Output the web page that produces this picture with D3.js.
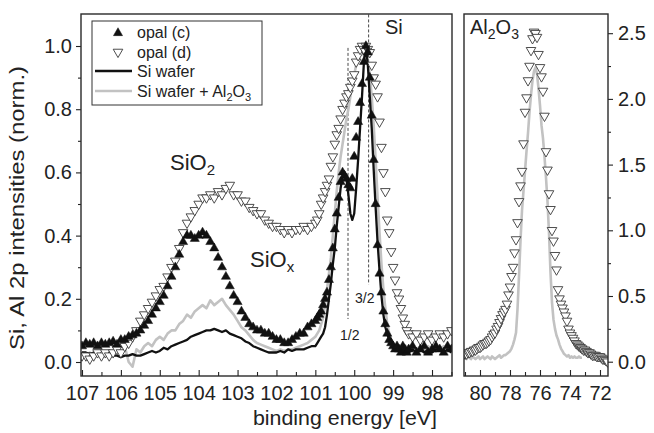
<!DOCTYPE html>
<html><head><meta charset="utf-8">
<script src="https://cdn.jsdelivr.net/npm/d3@7"></script>
<style>
body{margin:0;background:#fff;}
svg{display:block;font-family:"Liberation Sans",Arial,Helvetica,sans-serif;}
</style></head><body>
<svg id="chart" width="654" height="433"></svg>
<script>
// ---------- DATA ----------
// Si 2p panel energy grid (eV): 107.0..101.1 step 0.1, 101.0..98.6 step 0.05, 98.5..97.5 step 0.1
const siE = [].concat(
  d3.range(60).map(i => +(107 - 0.1 * i).toFixed(2)),
  d3.range(49).map(i => +(101 - 0.05 * i).toFixed(2)),
  d3.range(11).map(i => +(98.5 - 0.1 * i).toFixed(2))
);
// opal (c) – filled triangles
const opalC = [
  .05,.06,.055,.06,.05,.06,.055,.06,.065,.055,
  .07,.07,.08,.085,.09,.10,.115,.13,.15,.17,
  .19,.21,.24,.27,.30,.34,.38,.40,.40,.39,
  .40,.41,.40,.38,.36,.33,.30,.27,.24,.21,
  .19,.16,.14,.12,.11,.10,.10,.09,.09,.08,
  .07,.07,.06,.06,.07,.08,.09,.09,.11,.12,
  .13,.14,.15,.16,.18,.20,.22,.26,.30,.36,
  .42,.47,.52,.57,.60,.59,.58,.56,.55,.58,
  .65,.71,.76,.82,.88,.95,1.00,.98,.90,.78,
  .64,.50,.37,.28,.22,.16,.12,.09,.07,.06,
  .05,.04,.05,.04,.03,.05,.04,.03,.04,
  .05,.03,.04,.05,.03,.04,.05,.04,.03,.05,.04
];
// opal (d) – open triangles
const opalD = [
  .02,.02,.01,.02,.03,.02,.03,.02,.03,.04,
  .03,.05,.06,.08,.10,.13,.15,.17,.19,.21,
  .23,.24,.27,.30,.32,.36,.41,.44,.46,.48,
  .50,.52,.52,.53,.52,.54,.53,.55,.56,.53,
  .53,.51,.51,.49,.48,.47,.47,.45,.44,.43,
  .43,.42,.41,.42,.41,.42,.42,.43,.42,.43,
  .44,.45,.47,.50,.52,.54,.56,.58,.62,.65,
  .69,.72,.74,.77,.80,.82,.84,.85,.87,.89,
  .91,.95,.97,.99,1.00,.99,1.00,.99,.98,.94,
  .90,.88,.84,.76,.68,.60,.54,.45,.41,.35,
  .30,.26,.22,.20,.17,.14,.12,.10,.09,
  .08,.09,.07,.08,.09,.07,.08,.09,.08,.09,.10
];
// Si wafer – black line
const siWafer = [
  .03,.03,.025,.03,.02,.025,.02,.03,.02,.02,
  .015,.02,.02,.025,.02,.02,.025,.03,.035,.03,
  .035,.045,.04,.05,.055,.06,.065,.07,.08,.085,
  .09,.095,.10,.10,.105,.10,.095,.10,.09,.085,
  .08,.075,.065,.06,.05,.045,.04,.035,.03,.03,
  .03,.035,.03,.04,.035,.04,.04,.04,.045,.05,
  .05,.06,.07,.08,.09,.11,.15,.20,.25,.31,
  .36,.43,.49,.55,.59,.60,.58,.53,.47,.45,
  .47,.55,.64,.74,.84,.95,1.00,.94,.84,.74,
  .61,.49,.38,.29,.21,.15,.11,.09,.07,.06,
  .05,.05,.04,.04,.04,.03,.04,.04,.03,
  .04,.03,.04,.03,.04,.03,.04,.04,.03,.04,.03
];
// Si wafer + Al2O3 – grey line
const siWaferAl = [
  .03,.02,.03,.02,.03,.02,.03,.03,.02,.04,
  .02,.05,.00,-.015,.04,.03,.05,.06,.05,.07,
  .08,.07,.09,.10,.10,.12,.13,.15,.14,.16,
  .17,.18,.17,.195,.18,.19,.20,.18,.165,.15,
  .13,.11,.10,.085,.07,.06,.055,.05,.045,.04,
  .035,.04,.035,.04,.04,.045,.05,.055,.06,.07,
  .08,.09,.10,.12,.14,.18,.23,.28,.33,.40,
  .47,.54,.60,.65,.69,.73,.77,.80,.84,.88,
  .91,.94,.96,.98,.98,.97,.97,.95,.91,.84,
  .75,.64,.52,.41,.31,.23,.17,.12,.09,.07,
  .06,.05,.05,.04,.05,.04,.04,.05,.04,
  .05,.04,.05,.04,.05,.04,.05,.04,.05,.04,.05
];
// Al 2p panel energy grid (eV): 81.0..71.5 step 0.1
const alE = d3.range(96).map(i => +(81 - 0.1 * i).toFixed(1));
const opalDAl = [
  .06,.06,.07,.07,.08,.08,.09,.09,.10,.11,
  .11,.12,.13,.14,.14,.15,.16,.17,.19,.21,
  .22,.25,.27,.30,.33,.36,.38,.40,.44,.51,
  .57,.65,.72,.83,.93,1.06,1.22,1.34,1.45,1.66,
  1.90,2.01,2.14,2.25,2.37,2.46,2.51,2.50,2.47,2.34,
  2.24,2.17,2.06,1.87,1.60,1.46,1.28,1.16,1.00,.92,
  .81,.70,.55,.48,.44,.41,.38,.35,.31,.25,
  .22,.20,.18,.16,.14,.13,.12,.11,.10,.09,
  .09,.08,.07,.07,.06,.05,.05,.05,.04,.04,
  .04,.03,.02,.02,.01,.00
];
// grey line in Al panel: 81.0..73.2 step 0.1
const alGreyE = d3.range(79).map(i => +(81 - 0.1 * i).toFixed(1));
const siWaferAlAl = [
  .03,.02,.04,.03,.02,.04,.03,.02,.03,.04,
  .02,.03,.04,.02,.03,.04,.03,.02,.04,.03,
  .02,.03,.04,.05,.03,.04,.05,.05,.06,.07,
  .08,.10,.13,.17,.22,.40,.65,.92,1.15,1.30,
  1.45,1.60,1.74,1.90,2.03,2.14,2.21,2.24,2.19,2.08,
  1.95,1.80,1.70,1.56,1.40,1.22,.98,.68,.45,.32,
  .25,.20,.17,.13,.10,.08,.06,.05,.04,.05,
  .03,.04,.03,.04,.03,.03,.04,.03,.03
];
// tick values
const xTicksSi = [107,106,105,104,103,102,101,100,99,98];
const xTicksAl = [80,78,76,74,72];
const yTicksSi = [0.0,0.2,0.4,0.6,0.8,1.0];
const yTicksAl = [0.0,0.5,1.0,1.5,2.0,2.5];
// spin-orbit markers (eV) with their vertical extent (norm. intensity)
const dashE = [100.16, 99.63];
const dashTop = [0.994, 1.10];
const dashBot = [0.136, 0.245];

// ---------- LAYOUT ----------
const svg = d3.select("#chart");
const L = {x0:81, x1:452, y0:14, y1:376};
const R = {x0:464, x1:608, y0:14, y1:376};
const xL = d3.scaleLinear().domain([107.0257, 97.486]).range([L.x0, L.x1]);
const yL = d3.scaleLinear().domain([-0.0443, 1.1013]).range([L.y1, L.y0]);
const xR = d3.scaleLinear().domain([81.0667, 71.4667]).range([R.x0, R.x1]);
const yR = d3.scaleLinear().domain([-0.1088, 2.6461]).range([R.y1, R.y0]);

const FONT = 20;
const dark = "#222";

const defs = svg.append("defs");
defs.append("clipPath").attr("id","clipL").append("rect")
  .attr("x",L.x0).attr("y",L.y0).attr("width",L.x1-L.x0).attr("height",L.y1-L.y0);
defs.append("clipPath").attr("id","clipR").append("rect")
  .attr("x",R.x0).attr("y",R.y0).attr("width",R.x1-R.x0).attr("height",R.y1-R.y0);

function styleAxis(g){
  g.select(".domain").remove();
  g.selectAll("line").attr("stroke",dark).attr("stroke-width",1.1);
  g.selectAll("text").attr("font-size",FONT).attr("fill",dark)
   .attr("font-family",'"Liberation Sans",Arial,sans-serif');
}
function minorRange(a,b,step){ return d3.range(a,b+1e-9,step).map(v=>+v.toFixed(3)); }

// Left panel axes
svg.append("g").attr("transform",`translate(0,${L.y1})`)
  .call(d3.axisBottom(xL).tickValues(xTicksSi).tickFormat(d3.format("d")).tickSizeInner(-6).tickSizeOuter(0).tickPadding(10))
  .call(styleAxis);
svg.append("g").attr("transform",`translate(0,${L.y1})`)
  .call(d3.axisBottom(xL).tickValues(minorRange(97.5,107,0.5).filter(v=>v%1!==0)).tickFormat("").tickSizeInner(-4).tickSizeOuter(0))
  .call(styleAxis);
svg.append("g").attr("transform",`translate(${L.x0},0)`)
  .call(d3.axisLeft(yL).tickValues(yTicksSi).tickFormat(d3.format(".1f")).tickSizeInner(5).tickSizeOuter(0).tickPadding(4))
  .call(styleAxis);
svg.append("g").attr("transform",`translate(${L.x0},0)`)
  .call(d3.axisLeft(yL).tickValues([0.1,0.3,0.5,0.7,0.9]).tickFormat("").tickSizeInner(3).tickSizeOuter(0))
  .call(styleAxis);

// Right panel axes
svg.append("g").attr("transform",`translate(0,${R.y1})`)
  .call(d3.axisBottom(xR).tickValues(xTicksAl).tickFormat(d3.format("d")).tickSizeInner(-6).tickSizeOuter(0).tickPadding(10))
  .call(styleAxis);
svg.append("g").attr("transform",`translate(0,${R.y1})`)
  .call(d3.axisBottom(xR).tickValues([81,79,77,75,73]).tickFormat("").tickSizeInner(-4).tickSizeOuter(0))
  .call(styleAxis);
svg.append("g").attr("transform",`translate(${R.x1},0)`)
  .call(d3.axisRight(yR).tickValues(yTicksAl).tickFormat(d3.format(".1f")).tickSizeInner(5).tickSizeOuter(0).tickPadding(5))
  .call(styleAxis);
svg.append("g").attr("transform",`translate(${R.x1},0)`)
  .call(d3.axisRight(yR).tickValues([0.25,0.75,1.25,1.75,2.25]).tickFormat("").tickSizeInner(3).tickSizeOuter(0))
  .call(styleAxis);

// ---------- MARKS ----------
const gL = svg.append("g").attr("clip-path","url(#clipL)");
const gR = svg.append("g").attr("clip-path","url(#clipR)");

const lineL = d3.line().x(d=>xL(d[0])).y(d=>yL(d[1]));
const lineR = d3.line().x(d=>xR(d[0])).y(d=>yR(d[1]));

const GREY = "#c2c2c2";
// dashed spin-orbit markers
dashE.forEach((e,i)=>{
  gL.append("line").attr("x1",xL(e)).attr("x2",xL(e))
    .attr("y1",yL(dashTop[i])).attr("y2",yL(dashBot[i]))
    .attr("stroke","#333").attr("stroke-width",0.9).attr("stroke-dasharray","3,2");
});

gL.append("path").datum(d3.zip(siE, siWaferAl)).attr("d",lineL)
  .attr("fill","none").attr("stroke",GREY).attr("stroke-width",2.6).attr("stroke-linejoin","round");
gL.append("path").datum(d3.zip(siE, siWafer)).attr("d",lineL)
  .attr("fill","none").attr("stroke","#111").attr("stroke-width",2.3).attr("stroke-linejoin","round");
gR.append("path").datum(d3.zip(alGreyE, siWaferAlAl)).attr("d",lineR)
  .attr("fill","none").attr("stroke",GREY).attr("stroke-width",2.6).attr("stroke-linejoin","round");

const triOpen = d3.symbol().type(d3.symbolTriangle).size(40);
const triFill = d3.symbol().type(d3.symbolTriangle).size(36);

gL.selectAll("path.od").data(d3.zip(siE, opalD)).join("path").attr("class","od")
  .attr("d",triOpen).attr("transform",d=>`translate(${xL(d[0])},${yL(d[1])}) rotate(180)`)
  .attr("fill","#fff").attr("stroke","#3a3a3a").attr("stroke-width",0.9);
gR.selectAll("path.od").data(d3.zip(alE, opalDAl)).join("path").attr("class","od")
  .attr("d",triOpen).attr("transform",d=>`translate(${xR(d[0])},${yR(d[1])}) rotate(180)`)
  .attr("fill","#fff").attr("stroke","#3a3a3a").attr("stroke-width",0.9);
gL.selectAll("path.oc").data(d3.zip(siE, opalC)).join("path").attr("class","oc")
  .attr("d",triFill).attr("transform",d=>`translate(${xL(d[0])},${yL(d[1])})`)
  .attr("fill","#111").attr("stroke","#111").attr("stroke-width",0.5);

// frames
[L,R].forEach(p=>{
  svg.append("rect").attr("x",p.x0).attr("y",p.y0).attr("width",p.x1-p.x0).attr("height",p.y1-p.y0)
    .attr("fill","none").attr("stroke","#2a2a2a").attr("stroke-width",1.4);
});

// ---------- TEXT ----------
function subText(x, y, parts, size, subSize, shift, anchor){
  const t = svg.append("text").attr("x",x).attr("y",y).attr("font-size",size)
    .attr("fill",dark).attr("text-anchor",anchor||"start");
  let cur = 0;
  parts.forEach(([s,sub])=>{
    const want = sub ? shift : 0;
    const ts = t.append("tspan").text(s).attr("dy", want - cur);
    if (sub) ts.attr("font-size", subSize);
    cur = want;
  });
  return t;
}

// legend
const lg = svg.append("g");
lg.append("rect").attr("x",92).attr("y",21).attr("width",170).attr("height",84)
  .attr("fill","#fff").attr("stroke","#333").attr("stroke-width",1);
lg.append("path").attr("d",triFill).attr("transform","translate(118,33)")
  .attr("fill","#111").attr("stroke","#111").attr("stroke-width",0.5);
lg.append("path").attr("d",triOpen).attr("transform","translate(118,52) rotate(180)")
  .attr("fill","#fff").attr("stroke","#3a3a3a").attr("stroke-width",0.9);
lg.append("line").attr("x1",95).attr("x2",132).attr("y1",71).attr("y2",71)
  .attr("stroke","#111").attr("stroke-width",2.3);
lg.append("line").attr("x1",95).attr("x2",132).attr("y1",91).attr("y2",91)
  .attr("stroke",GREY).attr("stroke-width",2.6);
subText(137, 38, [["opal (c)",0]], 16, 11, 4);
subText(137, 57.5, [["opal (d)",0]], 16, 11, 4);
subText(137, 77, [["Si wafer",0]], 16, 11, 4);
subText(137, 97, [["Si wafer + Al",0],["2",1],["O",0],["3",1]], 16, 11, 4);

// annotations
subText(170, 170, [["SiO",0],["2",1]], 22, 15, 5);
subText(250, 267, [["SiO",0],["x",1]], 22, 15, 5);
subText(385, 34, [["Si",0]], 20, 14, 5);
subText(470, 34, [["Al",0],["2",1],["O",0],["3",1]], 20, 14, 5);
subText(340, 340, [["1/2",0]], 14, 10, 3);
subText(355, 303, [["3/2",0]], 14, 10, 3);

// axis titles
svg.append("text").attr("x",345).attr("y",425).attr("text-anchor","middle")
  .attr("font-size",21).attr("fill",dark)
  .attr("textLength",184).attr("lengthAdjust","spacingAndGlyphs")
  .text("binding energy [eV]");
svg.append("text").attr("transform","translate(24,208) rotate(-90)").attr("text-anchor","middle")
  .attr("font-size",20).attr("fill",dark)
  .attr("textLength",284).attr("lengthAdjust","spacingAndGlyphs")
  .text("Si, Al 2p intensities (norm.)");
</script>
</body></html>
